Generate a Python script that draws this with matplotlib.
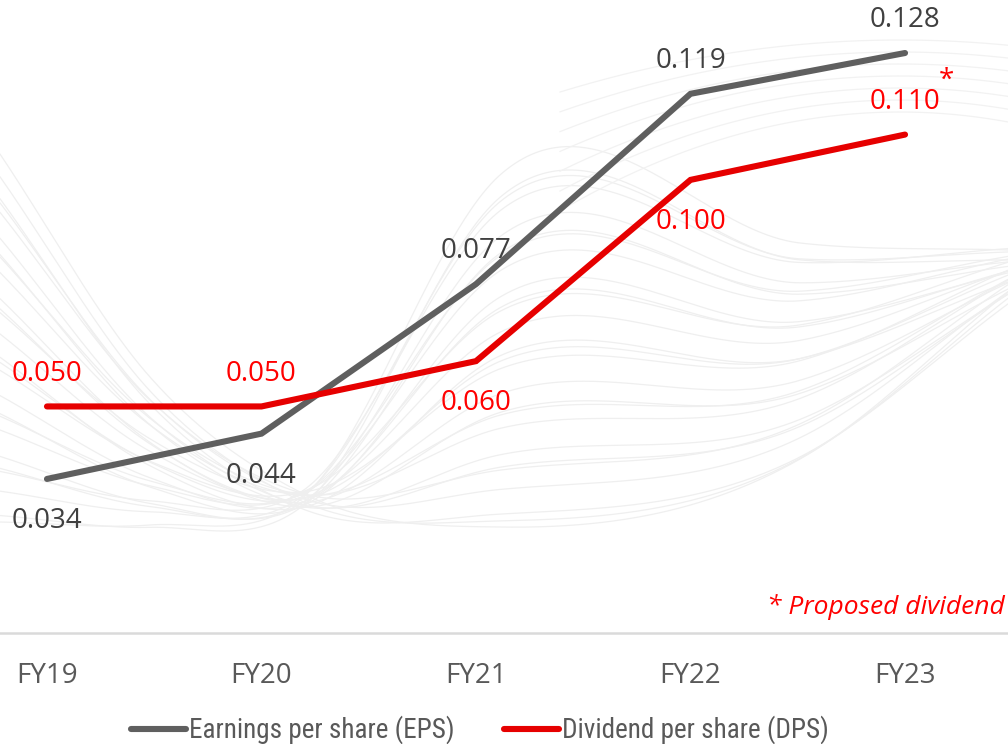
import numpy as np
import matplotlib
matplotlib.use("Agg")
import matplotlib.pyplot as plt
from matplotlib import font_manager

# ---- data -------------------------------------------------------------
years = ["FY19", "FY20", "FY21", "FY22", "FY23"]
eps = [0.034, 0.044, 0.077, 0.119, 0.128]
dps = [0.050, 0.050, 0.060, 0.100, 0.110]
eps_label_pos = ["below", "below", "above", "above", "above"]
dps_label_pos = ["above", "above", "below", "below", "above"]
series_names = ["Earnings per share (EPS)", "Dividend per share (DPS)"]
footnote = "* Proposed dividend"

# ---- styling ----------------------------------------------------------
EPS_COLOR = "#5f5f5f"
DPS_COLOR = "#e60000"
EPS_TEXT = "#404040"
DPS_TEXT = "#ff0000"
AXIS_TEXT = "#595959"

installed = {f.name for f in font_manager.fontManager.ttflist}
MAIN_FONT = "Open Sans" if "Open Sans" in installed else "DejaVu Sans"
NARROW_FONT, LEGEND_SIZE = MAIN_FONT, 17
for cand, size in [("Liberation Sans Narrow", 19.5), ("Roboto Condensed", 19.5),
                   ("Open Sans Condensed", 19.5), ("DejaVu Sans Condensed", 17.5)]:
    if cand in installed:
        NARROW_FONT, LEGEND_SIZE = cand, size
        break
plt.rcParams["font.family"] = [MAIN_FONT, "DejaVu Sans"]

W, H, DPI = 1008, 744, 100
fig = plt.figure(figsize=(W / DPI, H / DPI), dpi=DPI)


def hermite(xc, yc, xs):
    """Smooth Catmull-Rom style curve through control points."""
    xc, yc = np.asarray(xc, float), np.asarray(yc, float)
    m = np.gradient(yc, xc)
    out = np.empty_like(xs)
    for i in range(len(xc) - 1):
        sel = (xs >= xc[i]) & (xs <= xc[i + 1])
        h = xc[i + 1] - xc[i]
        t = (xs[sel] - xc[i]) / h
        h00 = 2 * t**3 - 3 * t**2 + 1
        h10 = t**3 - 2 * t**2 + t
        h01 = -2 * t**3 + 3 * t**2
        h11 = t**3 - t**2
        out[sel] = h00 * yc[i] + h10 * h * m[i] + h01 * yc[i + 1] + h11 * h * m[i + 1]
    return out


# ---- faint decorative ribbon of curves in the background ---------------
bg = fig.add_axes([0, 0, 1, 1], zorder=0)
bg.set_xlim(0, W)
bg.set_ylim(H, 0)
bg.axis("off")
xs = np.linspace(0, W, 500)
knots = [0, 150, 300, 500, 800, 1008]
centre = hermite(knots, [342, 455, 500, 355, 355, 275], xs)
spread = hermite(knots, [-180, -70, 0, 180, 112, 25], xs)
for i, w in enumerate(np.linspace(-1, 1, 26)):
    jitter = 8 * np.sin(i * 1.7)
    bg.plot(xs, centre + w * spread + jitter, color="#efefef", lw=0.9,
            solid_capstyle="round")
# a few wide arcs across the upper right
for k in range(7):
    arc_x = np.linspace(560, W, 200)
    arc_y = 40 + 12 * k + 0.00045 * (arc_x - 900) ** 2 * (1 + 0.15 * k)
    bg.plot(arc_x, arc_y, color="#f2f2f2", lw=0.9)

# ---- main chart -------------------------------------------------------
ax = fig.add_axes([0, 111 / H, 1, 1 - 111 / H], zorder=1)
ax.patch.set_alpha(0)
x = np.arange(len(years))
ax.set_xlim(-0.219, 4.480)
ax.set_ylim(0, 0.1397)

ax.plot(x, eps, color=EPS_COLOR, lw=4.4, solid_capstyle="round",
        solid_joinstyle="miter", label=series_names[0], zorder=3)
ax.plot(x, dps, color=DPS_COLOR, lw=4.4, solid_capstyle="round",
        solid_joinstyle="miter", label=series_names[1], zorder=4)


def put_labels(values, positions, color):
    for xi, v, pos in zip(x, values, positions):
        dy = 18.5 if pos == "above" else -35.5
        ax.annotate(f"{v:.3f}", (xi, v), xytext=(0, dy),
                    textcoords="offset points", ha="center", va="baseline",
                    fontsize=20, color=color, zorder=5)


put_labels(eps, eps_label_pos, EPS_TEXT)
put_labels(dps, dps_label_pos, DPS_TEXT)

# asterisk marking the proposed final dividend
ax.annotate("*", (x[-1], dps[-1]), xytext=(29.5, 34), textcoords="offset points",
            ha="center", va="baseline", fontsize=20, color=DPS_TEXT, zorder=5)

for side in ("top", "left", "right"):
    ax.spines[side].set_visible(False)
ax.spines["bottom"].set_color("#dadada")
ax.spines["bottom"].set_linewidth(1.8)
ax.set_yticks([])
ax.set_xticks(x)
ax.set_xticklabels(years)
ax.tick_params(axis="x", length=0, pad=21, labelsize=20, labelcolor=AXIS_TEXT)

fig.text(1005 / W, 1 - 614 / H, footnote, ha="right", va="baseline",
         fontsize=19, style="italic", color=DPS_TEXT)

leg = ax.legend(loc="center", bbox_to_anchor=(480 / W, 14 / H),
                bbox_transform=fig.transFigure, ncol=2, frameon=False,
                handlelength=55 / (LEGEND_SIZE * DPI / 72),
                handletextpad=0.1, columnspacing=50 / (LEGEND_SIZE * DPI / 72),
                prop={"family": [NARROW_FONT, "DejaVu Sans"], "size": LEGEND_SIZE})
for t in leg.get_texts():
    t.set_color(AXIS_TEXT)

fig.savefig("out.png", dpi=DPI)
